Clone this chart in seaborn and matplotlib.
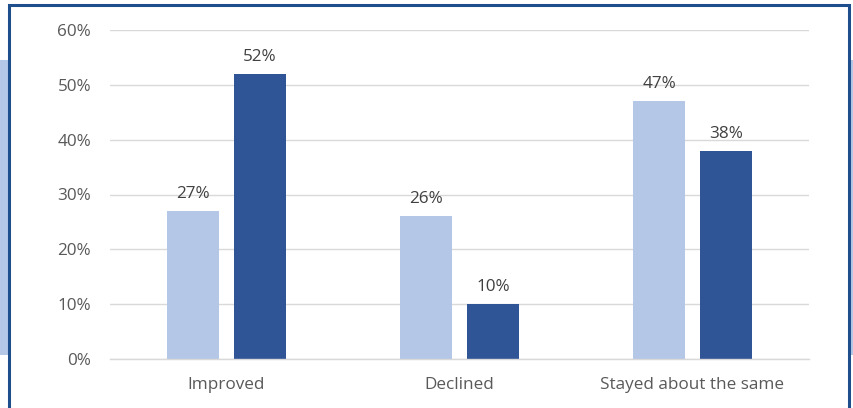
import matplotlib
matplotlib.use("Agg")
import matplotlib.pyplot as plt
from matplotlib.patches import Rectangle
from matplotlib.ticker import PercentFormatter
import seaborn as sns
import pandas as pd

categories = ["Improved", "Declined", "Stayed about the same"]
series_names = ["Series A", "Series B"]
values_a = [27, 26, 47]
values_b = [52, 10, 38]
yticks = [0, 10, 20, 30, 40, 50, 60]

df = pd.DataFrame({
    "category": categories * 2,
    "series": [series_names[0]] * 3 + [series_names[1]] * 3,
    "value": values_a + values_b,
})

sns.set_theme(style="white")
plt.rcParams["font.family"] = ["Open Sans", "DejaVu Sans"]

W, H = 854, 408
fig = plt.figure(figsize=(W / 100, H / 100), dpi=100)

# background band and framed panel
fig.patches.append(Rectangle((0, (H - 355) / H), 1, (355 - 60) / H,
                             transform=fig.transFigure, facecolor="#B4C7E7",
                             edgecolor="none", zorder=0))
fig.patches.append(Rectangle((9 / W, -0.05), (849 - 9) / W, (H - 5) / H + 0.05,
                             transform=fig.transFigure, facecolor="white",
                             edgecolor="#1F4E8C", linewidth=2.2, zorder=1))

ax = fig.add_axes([110 / W, 49 / H, (809 - 110) / W, (359 - 30) / H])
ax.set_facecolor("none")
ax.set_zorder(2)

sns.barplot(data=df, x="category", y="value", hue="series",
            palette=["#B4C7E7", "#2F5597"], width=0.575, gap=0.224,
            legend=False, ax=ax, saturation=1, linewidth=0)

ax.set_ylim(0, 60)
ax.set_yticks(yticks)
ax.yaxis.set_major_formatter(PercentFormatter(decimals=0))
ax.set_xlim(-0.5, 2.5)
ax.grid(axis="y", color="#D9D9D9", linewidth=1)
ax.set_axisbelow(True)
for s in ["top", "right", "left"]:
    ax.spines[s].set_visible(False)
ax.spines["bottom"].set_color("#D9D9D9")
ax.spines["bottom"].set_linewidth(1)
ax.set_xlabel("")
ax.set_ylabel("")
ax.tick_params(axis="both", length=0, labelsize=12.3, labelcolor="#595959")
ax.tick_params(axis="y", pad=13.5)
ax.tick_params(axis="x", pad=13)

for cont in ax.containers:
    ax.bar_label(cont, fmt="%d%%", padding=6.5, fontsize=12.3, color="#404040")

fig.savefig("out.png", dpi=100)
